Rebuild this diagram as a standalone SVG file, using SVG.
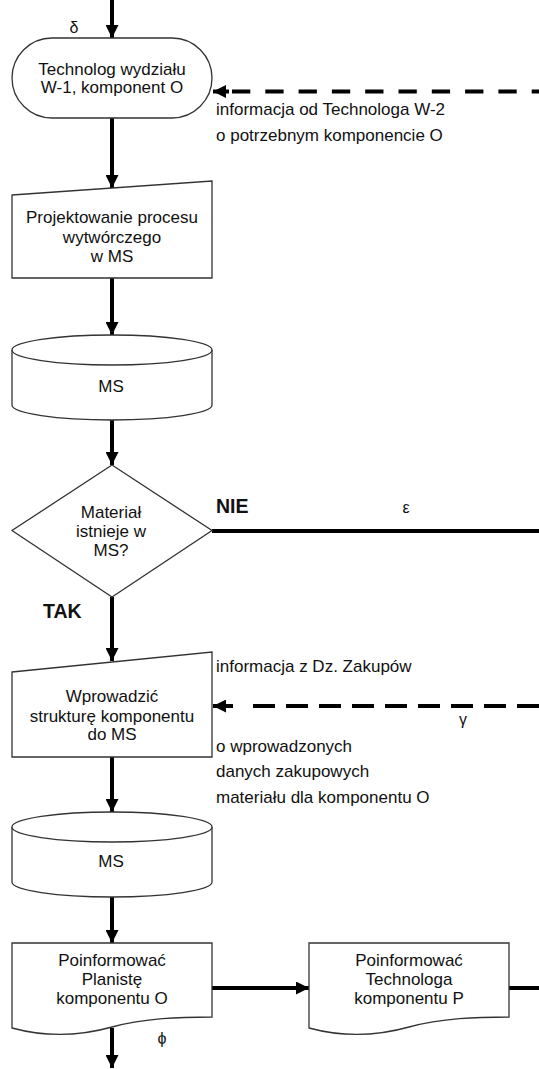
<svg xmlns="http://www.w3.org/2000/svg" width="539" height="1069" viewBox="0 0 539 1069">
<style>
.node{fill:#fff;stroke:#333;stroke-width:1.3}
.t{font-family:"Liberation Sans",Arial,sans-serif;font-size:17px;fill:#111;text-anchor:middle}
.lbl{font-family:"Liberation Sans",Arial,sans-serif;font-size:17px;fill:#111}
.b{font-family:"Liberation Sans",Arial,sans-serif;font-size:19.5px;font-weight:bold;fill:#111}
.g{font-family:"Liberation Sans",Arial,sans-serif;font-size:16px;fill:#111;text-anchor:middle}
.c{fill:none;stroke:#000;stroke-width:4}
.d{fill:none;stroke:#000;stroke-width:4}
</style>
<defs>
<marker id="ah" viewBox="0 0 13 13" refX="13" refY="6.5" markerWidth="13" markerHeight="13" markerUnits="userSpaceOnUse" orient="auto">
<path d="M0,0 L13,6.5 L0,13 Z" fill="#000"/>
</marker>
</defs>
<rect width="539" height="1069" fill="#fff"/>
<g id="connectors">
<path class="c" d="M112,0 V38" marker-end="url(#ah)"/>
<path class="c" d="M112,118 V188" marker-end="url(#ah)"/>
<path class="c" d="M112,278 V335" marker-end="url(#ah)"/>
<path class="c" d="M112,420 V465" marker-end="url(#ah)"/>
<path class="c" d="M112,597 V661" marker-end="url(#ah)"/>
<path class="c" d="M212,531 H539"/>
<path class="c" d="M112,757 V812" marker-end="url(#ah)"/>
<path class="c" d="M112,897 V943" marker-end="url(#ah)"/>
<path class="c" d="M212,988 H309" marker-end="url(#ah)"/>
<path class="c" d="M509,988 H539"/>
<path class="c" d="M112,1028 V1068" marker-end="url(#ah)"/>
<path class="d" d="M232,91.5 H539" stroke-dasharray="18.3 15"/>
<path class="c" d="M229,91.5 H213" marker-end="url(#ah)"/>
<path class="d" d="M253,706 H539" stroke-dasharray="22 11"/>
<path class="c" d="M233,706 H213" marker-end="url(#ah)"/>
</g>
<g id="labels">
<text class="g" x="74" y="33">δ</text>
<text class="lbl" x="216" y="115">informacja od Technologa W-2</text>
<text class="lbl" x="216" y="141">o potrzebnym komponencie O</text>
<text class="b" x="216" y="513">NIE</text>
<text class="g" x="406" y="513">ε</text>
<text class="b" x="43" y="618">TAK</text>
<text class="lbl" x="216" y="672">informacja z Dz. Zakupów</text>
<text class="g" x="463" y="725">γ</text>
<text class="lbl" x="216" y="752">o wprowadzonych</text>
<text class="lbl" x="216" y="777">danych zakupowych</text>
<text class="lbl" x="216" y="803">materiału dla komponentu O</text>
<text class="g" x="162" y="1044">ϕ</text>
</g>
<g id="n1">
<rect class="node" x="12" y="38" width="200" height="80" rx="40" ry="40"/>
<text class="t" x="112" y="75">Technolog wydziału</text>
<text class="t" x="112" y="93">W-1, komponent O</text>
</g>
<g id="n2">
<path class="node" d="M12,195 L212,181 V278 H12 Z"/>
<text class="t" x="112" y="223">Projektowanie procesu</text>
<text class="t" x="112" y="243">wytwórczego</text>
<text class="t" x="112" y="262">w MS</text>
</g>
<g id="n3">
<path class="node" d="M12,350 V405 A100,15 0 0 0 212,405 V350"/>
<ellipse class="node" cx="112" cy="350" rx="100" ry="15"/>
<text class="t" x="111" y="392">MS</text>
</g>
<g id="n4">
<path class="node" d="M112,465 L212,530.5 L112,597 L12,530.5 Z"/>
<text class="t" x="111" y="518">Materiał</text>
<text class="t" x="111" y="537">istnieje w</text>
<text class="t" x="111" y="556">MS?</text>
</g>
<g id="n5">
<path class="node" d="M12,672 L212,652 V757 H12 Z"/>
<text class="t" x="112" y="702">Wprowadzić</text>
<text class="t" x="112" y="722">strukturę komponentu</text>
<text class="t" x="112" y="740">do MS</text>
</g>
<g id="n6">
<path class="node" d="M12,827 V882 A100,15 0 0 0 212,882 V827"/>
<ellipse class="node" cx="112" cy="827" rx="100" ry="15"/>
<text class="t" x="111" y="867">MS</text>
</g>
<g id="n7">
<path class="node" d="M12,943 H212 V1017 C180,1017 145,1018 112,1027 C80,1036 45,1037 12,1028 Z"/>
<text class="t" x="112" y="966">Poinformować</text>
<text class="t" x="112" y="985">Planistę</text>
<text class="t" x="112" y="1004">komponentu O</text>
</g>
<g id="n8">
<path class="node" d="M309,943 H509 V1017 C477,1017 442,1018 409,1027 C377,1036 342,1037 309,1028 Z"/>
<text class="t" x="409" y="966">Poinformować</text>
<text class="t" x="409" y="985">Technologa</text>
<text class="t" x="409" y="1004">komponentu P</text>
</g>
</svg>
